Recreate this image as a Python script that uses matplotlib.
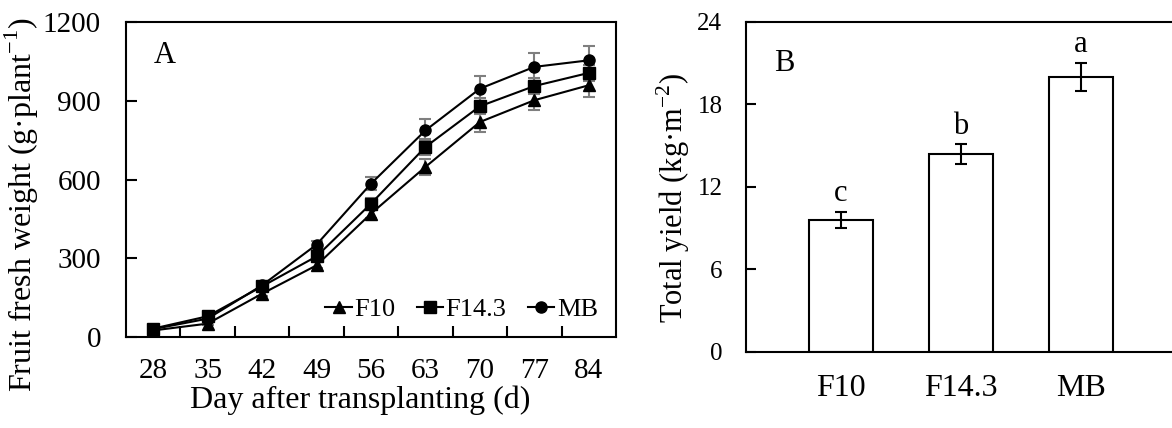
import numpy as np
import matplotlib
matplotlib.use("Agg")
from matplotlib import pyplot as plt

plt.rcParams['font.family'] = ['Liberation Serif', 'DejaVu Serif']
plt.rcParams['mathtext.fontset'] = 'custom'
plt.rcParams['mathtext.rm'] = 'Liberation Serif'

# panel A: fruit fresh weight over time
days = ['28', '35', '42', '49', '56', '63', '70', '77', '84']
f10 = [25, 51, 165, 273, 470, 648, 819, 902, 959]
f10_err = [5, 6, 10, 12, 15, 30, 38, 38, 45]
f143 = [32, 79, 193, 307, 508, 724, 879, 956, 1006]
f143_err = [5, 8, 10, 12, 20, 30, 30, 30, 30]
mb = [30, 70, 197, 352, 584, 787, 946, 1029, 1054]
mb_err = [5, 8, 12, 15, 25, 42, 48, 52, 55]

# panel B: total yield
treatments = ['F10', 'F14.3', 'MB']
yield_vals = [9.6, 14.4, 20.0]
yield_err = [0.6, 0.7, 1.05]
letters = ['c', 'b', 'a']

fig = plt.figure(figsize=(11.72, 4.28), dpi=100)
axA = fig.add_axes([0.1075, 0.2126, 0.4181, 0.736])
axB = fig.add_axes([0.6365, 0.1776, 0.3635, 0.771])

x = np.arange(len(days))
series = [(f10, f10_err, '^', 'F10'),
          (f143, f143_err, 's', 'F14.3'),
          (mb, mb_err, 'o', 'MB')]
for vals, err, mk, lab in series:
    axA.errorbar(x, vals, yerr=err, fmt='none', ecolor='#7f7f7f',
                 elinewidth=1.5, capsize=4, capthick=1.5, zorder=2)
    axA.plot(x, vals, color='black', lw=1.5, marker=mk, markersize=8,
             label=lab, zorder=3)

axA.set_xlim(-0.5, len(days) - 0.5)
axA.set_ylim(0, 1200)
axA.set_yticks([0, 300, 600, 900, 1200])
axA.set_xticks(x)
axA.set_xticklabels(days)
axA.set_xticks(np.arange(0.5, len(days) - 1, 1), minor=True)
axA.tick_params(axis='x', which='major', length=0, labelsize=21, pad=15)
axA.tick_params(axis='x', which='minor', direction='in', length=8, width=1.5)
axA.tick_params(axis='y', direction='in', length=8, width=1.5, labelsize=21, pad=18)
axA.set_xlabel('Day after transplanting (d)', fontsize=23, labelpad=1)
axA.xaxis.label.set_x(0.478)
axA.set_ylabel(r'Fruit fresh weight (g·plant$^{\mathregular{-1}}$)', fontsize=23, labelpad=1)
axA.yaxis.label.set_y(0.42)
axA.text(0.057, 0.895, 'A', transform=axA.transAxes, fontsize=22,
         ha='left', va='center')
axA.legend(loc='lower right', ncol=3, frameon=False, fontsize=19,
           handlelength=1.0, handletextpad=0.1, columnspacing=0.8,
           borderaxespad=0.2, bbox_to_anchor=(0.995, 0.0))
for sp in axA.spines.values():
    sp.set_linewidth(1.5)

xb = np.arange(len(treatments))
axB.bar(xb, yield_vals, width=0.53, color='white', edgecolor='black', linewidth=1.5)
axB.errorbar(xb, yield_vals, yerr=yield_err, fmt='none', ecolor='black',
             elinewidth=1.5, capsize=4, capthick=1.5)
for xi, v, e, t in zip(xb, yield_vals, yield_err, letters):
    axB.text(xi, v + e + 0.25, t, ha='center', va='bottom', fontsize=22)

axB.set_xlim(-0.79, 2.76)
axB.set_ylim(0, 24)
axB.set_yticks([0, 6, 12, 18, 24])
axB.set_xticks(xb)
axB.set_xticklabels(treatments)
axB.tick_params(axis='x', length=0, labelsize=23, pad=16)
axB.tick_params(axis='y', direction='in', length=7, width=1.5, labelsize=18, pad=17)
axB.set_ylabel(r'Total yield (kg·m$^{\mathregular{-2}}$)', fontsize=22, labelpad=4)
axB.yaxis.label.set_y(0.467)
axB.text(0.066, 0.875, 'B', transform=axB.transAxes, fontsize=22,
         ha='left', va='center')
for sp in axB.spines.values():
    sp.set_linewidth(1.5)
axB.spines['right'].set_visible(False)

fig.savefig('out.png', dpi=100)
